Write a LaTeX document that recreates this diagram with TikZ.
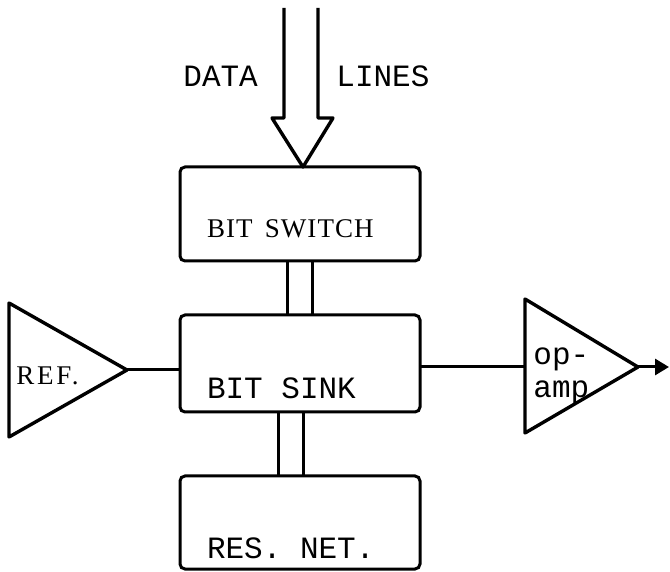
\documentclass[tikz,border=0pt]{standalone}
\usepackage{fontspec}
\setmainfont{Liberation Serif}
\setmonofont{Liberation Mono}
\newfontfamily\spacedserif[LetterSpace=4]{Liberation Serif}
\newfontfamily\widerserif[LetterSpace=10]{Liberation Serif}
\usepackage{tikz}
\usetikzlibrary{arrows.meta, positioning}

\begin{document}
\begin{tikzpicture}[
    x=0.5pt, y=-0.5pt,
    block/.style={
        rectangle, draw, line width=1.5pt, rounded corners=2.5pt,
        text width=93pt, inner xsep=13.5pt, inner ysep=0pt, outer sep=0pt,
        align=left
    },
    typed/.style={font=\ttfamily\fontsize{15.5}{16.5}\selectfont,
        execute at begin node={\spaceskip=0.6em\relax}},
    printed/.style={font=\spacedserif\fontsize{13.5}{16}\selectfont,
        execute at begin node={\spaceskip=0.45em\relax}},
    caption/.style={inner sep=0pt},
    wire/.style={line width=1.5pt},
    amp/.style={line width=1.7pt, line join=round},
    arrow/.style={-{Triangle[length=7pt, width=8pt]}, line width=1.5pt}
]
\useasboundingbox (0,0) rectangle (670,572);

% ── Blocks ──
\node[block, printed, text height=35.5pt, text depth=11.5pt] (switch) at (300,214) {BIT SWITCH};
\node[block, typed, below=27pt of switch, text height=42pt, text depth=6.5pt] (sink) {BIT SINK};
\node[block, typed, below=32pt of sink, text height=41.5pt, text depth=5pt] (resnet) {RES. NET.};

% ── Buses ──
\draw[wire] ([xshift=-6.5pt]switch.south) -- ([xshift=-6.5pt]sink.north);
\draw[wire] ([xshift=6pt]switch.south) -- ([xshift=6pt]sink.north);
\draw[wire] ([xshift=-11pt]sink.south) -- ([xshift=-11pt]resnet.north);
\draw[wire] ([xshift=1.5pt]sink.south) -- ([xshift=1.5pt]resnet.north);

% ── Data lines ──
\draw[amp] ([xshift=-8pt]switch.north) ++(0,79.5pt) -- ++(0,-55pt) -- ++(-6pt,0)
    -- ([xshift=1.5pt]switch.north) -- ++(15pt,24.5pt) -- ++(-7.5pt,0) -- ++(0,55pt);
\node[typed, caption, anchor=base west] (data) at (183,87) {DATA};
\node[typed, caption, anchor=base west] (lines) at (336,87) {LINES};

% ── Reference ──
\coordinate (reftip) at (127,370);
\draw[amp] (9,303) -- (reftip) -- (9,437) -- cycle;
\node[caption, font=\widerserif\fontsize{13.5}{16}\selectfont, anchor=base west] (ref) at (16,385) {REF.};
\draw[wire] (reftip) -- (reftip -| sink.west);

% ── Output amplifier ──
\coordinate (ampin) at (525,367);
\coordinate (amptip) at (638,367);
\coordinate (out) at (669,367);
\draw[amp] (525,299) -- (amptip) -- (525,433) -- cycle;
\node[typed, caption, align=left, anchor=base west] (opamp) at (533,398) {op-\\amp};
\draw[wire] (ampin -| sink.east) -- (ampin);
\draw[arrow] (amptip) -- (out);

\end{tikzpicture}
\end{document}
